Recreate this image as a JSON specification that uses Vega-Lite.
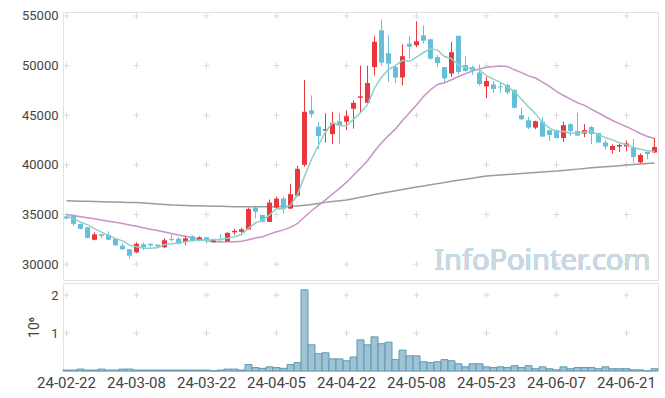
{
 "$schema": "https://vega.github.io/schema/vega-lite/v6.json",
 "background": "white",
 "padding": {"left": 20, "top": 9, "right": 5, "bottom": 5},
 "spacing": 1,
 "config": {
  "view": {"stroke": "#e2e2e2"},
  "axis": {"labelFont": "Roboto", "labelColor": "#444", "domain": false, "ticks": false, "grid": false, "titleFont": "Roboto", "titleColor": "#444", "titleFontWeight": "normal"}
 },
 "datasets": {
  "p": [
   {"d":"24-02-22","o":34800,"h":34900,"l":34500,"c":34600,"v":25000,"m5":34850,"m20":35000,"m120":36380},
   {"d":"24-02-23","o":34900,"h":35000,"l":33850,"c":34050,"v":25000,"m5":34550,"m20":34900,"m120":36360},
   {"d":"24-02-26","o":34050,"h":34100,"l":33500,"c":33550,"v":50000,"m5":34250,"m20":34780,"m120":36345},
   {"d":"24-02-27","o":33700,"h":33750,"l":32600,"c":32650,"v":25000,"m5":33950,"m20":34670,"m120":36325},
   {"d":"24-02-28","o":32450,"h":33200,"l":32400,"c":33000,"v":25000,"m5":33570,"m20":34560,"m120":36310},
   {"d":"24-02-29","o":33000,"h":33050,"l":32650,"c":32850,"v":50000,"m5":33220,"m20":34440,"m120":36290},
   {"d":"24-03-04","o":32950,"h":33300,"l":32400,"c":32450,"v":25000,"m5":32900,"m20":34330,"m120":36270},
   {"d":"24-03-05","o":32550,"h":32600,"l":31850,"c":31900,"v":25000,"m5":32570,"m20":34210,"m120":36255},
   {"d":"24-03-06","o":31850,"h":32100,"l":31450,"c":31500,"v":50000,"m5":32340,"m20":34100,"m120":36235},
   {"d":"24-03-07","o":31500,"h":31500,"l":30550,"c":30850,"v":50000,"m5":31910,"m20":33950,"m120":36220},
   {"d":"24-03-08","o":31200,"h":32200,"l":31100,"c":32050,"v":25000,"m5":31750,"m20":33810,"m120":36200},
   {"d":"24-03-11","o":32000,"h":32170,"l":31400,"c":31700,"v":25000,"m5":31600,"m20":33660,"m120":36150},
   {"d":"24-03-12","o":32050,"h":32100,"l":31700,"c":31900,"v":25000,"m5":31600,"m20":33520,"m120":36100},
   {"d":"24-03-13","o":31950,"h":32000,"l":31600,"c":31800,"v":25000,"m5":31660,"m20":33380,"m120":36050},
   {"d":"24-03-14","o":31700,"h":32600,"l":31600,"c":32400,"v":25000,"m5":31970,"m20":33230,"m120":36000},
   {"d":"24-03-15","o":32550,"h":33000,"l":32300,"c":32450,"v":25000,"m5":32050,"m20":33090,"m120":35950},
   {"d":"24-03-18","o":32550,"h":32700,"l":31950,"c":32050,"v":25000,"m5":32120,"m20":32940,"m120":35930},
   {"d":"24-03-19","o":32250,"h":32800,"l":31900,"c":32600,"v":25000,"m5":32260,"m20":32800,"m120":35910},
   {"d":"24-03-20","o":32800,"h":32900,"l":32250,"c":32350,"v":25000,"m5":32370,"m20":32650,"m120":35890},
   {"d":"24-03-21","o":32400,"h":32800,"l":32300,"c":32700,"v":25000,"m5":32430,"m20":32470,"m120":35870},
   {"d":"24-03-22","o":32700,"h":32750,"l":32050,"c":32350,"v":25000,"m5":32410,"m20":32358,"m120":35850},
   {"d":"24-03-25","o":32200,"h":32500,"l":32150,"c":32400,"v":5000,"m5":32480,"m20":32275,"m120":35835},
   {"d":"24-03-26","o":32550,"h":33000,"l":32250,"c":32500,"v":25000,"m5":32460,"m20":32223,"m120":35820},
   {"d":"24-03-27","o":32300,"h":33200,"l":32250,"c":33150,"v":50000,"m5":32620,"m20":32248,"m120":35805},
   {"d":"24-03-28","o":33200,"h":33550,"l":32950,"c":33350,"v":50000,"m5":32750,"m20":32265,"m120":35790},
   {"d":"24-03-29","o":33250,"h":33670,"l":33100,"c":33500,"v":25000,"m5":32980,"m20":32298,"m120":35780},
   {"d":"24-04-01","o":33500,"h":35700,"l":33500,"c":35550,"v":170000,"m5":33610,"m20":32453,"m120":35780},
   {"d":"24-04-02","o":35700,"h":35900,"l":34600,"c":35270,"v":90000,"m5":34164,"m20":32621,"m120":35780},
   {"d":"24-04-03","o":34950,"h":35000,"l":34200,"c":34250,"v":70000,"m5":34384,"m20":32759,"m120":35780},
   {"d":"24-04-04","o":34250,"h":36500,"l":34250,"c":36200,"v":110000,"m5":34954,"m20":33026,"m120":35780},
   {"d":"24-04-05","o":35700,"h":36800,"l":35600,"c":36600,"v":90000,"m5":35574,"m20":33254,"m120":35780},
   {"d":"24-04-08","o":36600,"h":36800,"l":35100,"c":35600,"v":70000,"m5":35584,"m20":33449,"m120":35800},
   {"d":"24-04-09","o":35600,"h":38050,"l":35550,"c":37050,"v":170000,"m5":35940,"m20":33706,"m120":35820},
   {"d":"24-04-11","o":36900,"h":39900,"l":36800,"c":39600,"v":220000,"m5":37010,"m20":34096,"m120":35850},
   {"d":"24-04-12","o":40000,"h":48550,"l":39800,"c":45350,"v":2140000,"m5":38840,"m20":34744,"m120":35920},
   {"d":"24-04-15","o":45500,"h":47000,"l":44800,"c":45100,"v":690000,"m5":40540,"m20":35376,"m120":36000},
   {"d":"24-04-16","o":43850,"h":44350,"l":41600,"c":42900,"v":456000,"m5":42000,"m20":35919,"m120":36110},
   {"d":"24-04-17","o":43450,"h":45200,"l":42250,"c":43600,"v":480000,"m5":43310,"m20":36469,"m120":36220},
   {"d":"24-04-18","o":43100,"h":45350,"l":42100,"c":44250,"v":320000,"m5":44240,"m20":37064,"m120":36300},
   {"d":"24-04-19","o":44400,"h":45200,"l":42100,"c":44000,"v":320000,"m5":43970,"m20":37629,"m120":36380},
   {"d":"24-04-22","o":44350,"h":45500,"l":43500,"c":44900,"v":270000,"m5":43930,"m20":38256,"m120":36450},
   {"d":"24-04-23","o":45650,"h":46500,"l":43650,"c":46250,"v":370000,"m5":44600,"m20":38949,"m120":36590},
   {"d":"24-04-24","o":46750,"h":50000,"l":45300,"c":46900,"v":820000,"m5":45260,"m20":39669,"m120":36730},
   {"d":"24-04-25","o":46250,"h":50000,"l":46200,"c":48250,"v":690000,"m5":46060,"m20":40424,"m120":36870},
   {"d":"24-04-26","o":49850,"h":53000,"l":49000,"c":52400,"v":900000,"m5":47740,"m20":41376,"m120":37010},
   {"d":"24-04-29","o":53550,"h":54650,"l":50000,"c":50300,"v":720000,"m5":48820,"m20":42216,"m120":37150},
   {"d":"24-04-30","o":51250,"h":53050,"l":48350,"c":50200,"v":760000,"m5":49610,"m20":42949,"m120":37270},
   {"d":"24-05-02","o":49850,"h":50000,"l":48250,"c":48800,"v":300000,"m5":49990,"m20":43625,"m120":37390},
   {"d":"24-05-03","o":48800,"h":52150,"l":48000,"c":50950,"v":550000,"m5":50530,"m20":44460,"m120":37510},
   {"d":"24-05-07","o":52200,"h":53000,"l":50700,"c":51900,"v":400000,"m5":50430,"m20":45245,"m120":37640},
   {"d":"24-05-08","o":52050,"h":54450,"l":51850,"c":52450,"v":400000,"m5":50860,"m20":46038,"m120":37760},
   {"d":"24-05-09","o":53050,"h":54050,"l":52200,"c":52500,"v":245000,"m5":51320,"m20":46883,"m120":37880},
   {"d":"24-05-10","o":52650,"h":52700,"l":50600,"c":50700,"v":220000,"m5":51700,"m20":47565,"m120":37990},
   {"d":"24-05-13","o":50850,"h":51050,"l":49850,"c":50250,"v":245000,"m5":51560,"m20":48098,"m120":38110},
   {"d":"24-05-14","o":49850,"h":49850,"l":48350,"c":48700,"v":300000,"m5":50920,"m20":48265,"m120":38230},
   {"d":"24-05-16","o":49200,"h":52400,"l":48850,"c":51350,"v":270000,"m5":50700,"m20":48578,"m120":38350},
   {"d":"24-05-17","o":53000,"h":53000,"l":49150,"c":49350,"v":190000,"m5":50070,"m20":48900,"m120":38450},
   {"d":"24-05-20","o":50050,"h":50950,"l":49400,"c":49450,"v":110000,"m5":49820,"m20":49193,"m120":38560},
   {"d":"24-05-21","o":49850,"h":50000,"l":49050,"c":49500,"v":190000,"m5":49670,"m20":49455,"m120":38660},
   {"d":"24-05-22","o":49300,"h":50100,"l":48000,"c":48150,"v":190000,"m5":49560,"m20":49663,"m120":38770},
   {"d":"24-05-23","o":47900,"h":48900,"l":46700,"c":48450,"v":110000,"m5":48980,"m20":49840,"m120":38870},
   {"d":"24-05-24","o":48100,"h":48450,"l":47250,"c":47650,"v":90000,"m5":48640,"m20":49910,"m120":38930},
   {"d":"24-05-27","o":47900,"h":48250,"l":47250,"c":47800,"v":110000,"m5":48310,"m20":49955,"m120":38980},
   {"d":"24-05-28","o":48050,"h":48150,"l":47100,"c":47300,"v":90000,"m5":47870,"m20":49908,"m120":39030},
   {"d":"24-05-29","o":47550,"h":47600,"l":45700,"c":45750,"v":140000,"m5":47390,"m20":49575,"m120":39090},
   {"d":"24-05-30","o":45000,"h":45750,"l":44500,"c":44600,"v":90000,"m5":46620,"m20":49290,"m120":39140},
   {"d":"24-05-31","o":44500,"h":44850,"l":43600,"c":43750,"v":140000,"m5":45840,"m20":48968,"m120":39190},
   {"d":"24-06-03","o":43750,"h":44450,"l":43600,"c":44400,"v":60000,"m5":45160,"m20":48748,"m120":39230},
   {"d":"24-06-04","o":44350,"h":44800,"l":42800,"c":42850,"v":110000,"m5":44270,"m20":48343,"m120":39280},
   {"d":"24-06-05","o":43500,"h":43550,"l":42400,"c":43000,"v":60000,"m5":43720,"m20":47898,"m120":39320},
   {"d":"24-06-07","o":43500,"h":43550,"l":42650,"c":42700,"v":30000,"m5":43340,"m20":47410,"m120":39370},
   {"d":"24-06-10","o":42700,"h":44350,"l":42300,"c":44000,"v":110000,"m5":43390,"m20":46985,"m120":39440},
   {"d":"24-06-11","o":44100,"h":44200,"l":42900,"c":43400,"v":60000,"m5":43190,"m20":46620,"m120":39500},
   {"d":"24-06-12","o":43400,"h":45250,"l":42900,"c":42950,"v":90000,"m5":43210,"m20":46255,"m120":39570},
   {"d":"24-06-13","o":43150,"h":44110,"l":42790,"c":43500,"v":90000,"m5":43310,"m20":45995,"m120":39630},
   {"d":"24-06-14","o":43800,"h":43900,"l":42100,"c":43100,"v":90000,"m5":43390,"m20":45583,"m120":39700},
   {"d":"24-06-17","o":43200,"h":43250,"l":42200,"c":42250,"v":60000,"m5":43040,"m20":45228,"m120":39760},
   {"d":"24-06-18","o":42250,"h":42500,"l":41550,"c":41850,"v":110000,"m5":42730,"m20":44848,"m120":39810},
   {"d":"24-06-19","o":41500,"h":42050,"l":41150,"c":41900,"v":60000,"m5":42520,"m20":44468,"m120":39870},
   {"d":"24-06-20","o":41850,"h":42100,"l":41300,"c":42000,"v":60000,"m5":42220,"m20":44160,"m120":39920},
   {"d":"24-06-21","o":41850,"h":42450,"l":41350,"c":42150,"v":60000,"m5":42030,"m20":43845,"m120":39980},
   {"d":"24-06-24","o":41700,"h":42600,"l":40200,"c":40800,"v":30000,"m5":41740,"m20":43503,"m120":40030},
   {"d":"24-06-25","o":40250,"h":41150,"l":40150,"c":41000,"v":30000,"m5":41570,"m20":43163,"m120":40080},
   {"d":"24-06-26","o":41300,"h":41350,"l":40550,"c":41100,"v":0,"m5":41410,"m20":42853,"m120":40130},
   {"d":"24-06-27","o":41250,"h":42700,"l":41200,"c":41800,"v":60000,"m5":41370,"m20":42655,"m120":40180}
  ],
  "gp": [
   {"d":"24-02-22","g":30000},{"d":"24-02-22","g":35000},{"d":"24-02-22","g":40000},{"d":"24-02-22","g":45000},{"d":"24-02-22","g":50000},{"d":"24-02-22","g":55000},
   {"d":"24-03-08","g":30000},{"d":"24-03-08","g":35000},{"d":"24-03-08","g":40000},{"d":"24-03-08","g":45000},{"d":"24-03-08","g":50000},{"d":"24-03-08","g":55000},
   {"d":"24-03-22","g":30000},{"d":"24-03-22","g":35000},{"d":"24-03-22","g":40000},{"d":"24-03-22","g":45000},{"d":"24-03-22","g":50000},{"d":"24-03-22","g":55000},
   {"d":"24-04-05","g":30000},{"d":"24-04-05","g":35000},{"d":"24-04-05","g":40000},{"d":"24-04-05","g":45000},{"d":"24-04-05","g":50000},{"d":"24-04-05","g":55000},
   {"d":"24-04-22","g":30000},{"d":"24-04-22","g":35000},{"d":"24-04-22","g":40000},{"d":"24-04-22","g":45000},{"d":"24-04-22","g":50000},{"d":"24-04-22","g":55000},
   {"d":"24-05-08","g":30000},{"d":"24-05-08","g":35000},{"d":"24-05-08","g":40000},{"d":"24-05-08","g":45000},{"d":"24-05-08","g":50000},{"d":"24-05-08","g":55000},
   {"d":"24-05-23","g":30000},{"d":"24-05-23","g":35000},{"d":"24-05-23","g":40000},{"d":"24-05-23","g":45000},{"d":"24-05-23","g":50000},{"d":"24-05-23","g":55000},
   {"d":"24-06-07","g":30000},{"d":"24-06-07","g":35000},{"d":"24-06-07","g":40000},{"d":"24-06-07","g":45000},{"d":"24-06-07","g":50000},{"d":"24-06-07","g":55000},
   {"d":"24-06-21","g":30000},{"d":"24-06-21","g":35000},{"d":"24-06-21","g":40000},{"d":"24-06-21","g":45000},{"d":"24-06-21","g":50000},{"d":"24-06-21","g":55000}
  ],
  "gv": [
   {"d":"24-02-22","g":1000000},{"d":"24-02-22","g":2000000},
   {"d":"24-03-08","g":1000000},{"d":"24-03-08","g":2000000},
   {"d":"24-03-22","g":1000000},{"d":"24-03-22","g":2000000},
   {"d":"24-04-05","g":1000000},{"d":"24-04-05","g":2000000},
   {"d":"24-04-22","g":1000000},{"d":"24-04-22","g":2000000},
   {"d":"24-05-08","g":1000000},{"d":"24-05-08","g":2000000},
   {"d":"24-05-23","g":1000000},{"d":"24-05-23","g":2000000},
   {"d":"24-06-07","g":1000000},{"d":"24-06-07","g":2000000},
   {"d":"24-06-21","g":1000000},{"d":"24-06-21","g":2000000}
  ]
 },
 "vconcat": [
  {
   "width": 595,
   "height": 268,
   "layer": [
    {
     "data": {"name": "gp"},
     "mark": {"type": "point", "shape": "M-1,0L1,0M0,-1L0,1", "filled": false, "stroke": "#dadada", "strokeWidth": 1, "size": 36, "opacity": 1},
     "encoding": {
      "x": {"field": "d", "type": "ordinal", "scale": {"paddingInner": 0, "paddingOuter": 0}, "axis": null},
      "y": {"field": "g", "type": "quantitative", "scale": {"domain": [28400, 55400], "nice": false, "zero": false},
            "axis": {"values": [30000, 35000, 40000, 45000, 50000, 55000], "format": "d", "labelFontSize": 13, "labelPadding": 5, "title": null}}
     }
    },
    {
     "data": {"name": "p"},
     "mark": {"type": "text", "align": "right", "baseline": "alphabetic", "font": "Noto Sans", "fontSize": 29, "color": "#c9d9e4", "dx": 3},
     "encoding": {"x": {"datum": "24-06-26", "type": "ordinal"}, "y": {"datum": 29450, "type": "quantitative"}, "text": {"value": "InfoPointer.com"}}
    },
    {
     "data": {"name": "p"},
     "mark": {"type": "line", "color": "#9b9b9b", "strokeWidth": 1.5},
     "encoding": {"x": {"field": "d", "type": "ordinal"}, "y": {"field": "m120", "type": "quantitative"}}
    },
    {
     "data": {"name": "p"},
     "mark": {"type": "line", "color": "#c992c5", "strokeWidth": 1.5},
     "encoding": {"x": {"field": "d", "type": "ordinal"}, "y": {"field": "m20", "type": "quantitative"}}
    },
    {
     "data": {"name": "p"},
     "mark": {"type": "rule", "strokeWidth": 1},
     "encoding": {
      "x": {"field": "d", "type": "ordinal"},
      "y": {"field": "l", "type": "quantitative"},
      "y2": {"field": "h"},
      "color": {"condition": {"test": "datum.c >= datum.o", "value": "#e8383d"}, "value": "#66bfd9"}
     }
    },
    {
     "data": {"name": "p"},
     "mark": {"type": "bar", "width": 5},
     "encoding": {
      "x": {"field": "d", "type": "ordinal"},
      "y": {"field": "o", "type": "quantitative"},
      "y2": {"field": "c"},
      "color": {"condition": {"test": "datum.c >= datum.o", "value": "#e8383d"}, "value": "#66bfd9"}
     }
    },
    {
     "data": {"name": "p"},
     "mark": {"type": "line", "color": "#8fd0c6", "strokeWidth": 1.5},
     "encoding": {"x": {"field": "d", "type": "ordinal"}, "y": {"field": "m5", "type": "quantitative"}}
    }
   ]
  },
  {
   "width": 595,
   "height": 88,
   "layer": [
    {
     "data": {"name": "gv"},
     "mark": {"type": "point", "shape": "M-1,0L1,0M0,-1L0,1", "filled": false, "stroke": "#dadada", "strokeWidth": 1, "size": 36, "opacity": 1},
     "encoding": {
      "x": {"field": "d", "type": "ordinal", "scale": {"paddingInner": 0, "paddingOuter": 0},
            "axis": {"values": ["24-02-22", "24-03-08", "24-03-22", "24-04-05", "24-04-22", "24-05-08", "24-05-23", "24-06-07", "24-06-21"], "labelAngle": 0, "labelFontSize": 15, "labelPadding": 4, "title": null}},
      "y": {"field": "g", "type": "quantitative", "scale": {"domain": [0, 2320000], "nice": false},
            "axis": {"values": [1000000, 2000000], "labelExpr": "datum.value / 1000000", "labelFontSize": 13, "labelPadding": 5, "title": "10⁶", "titleFontSize": 14, "titlePadding": 9}}
     }
    },
    {
     "data": {"name": "p"},
     "mark": {"type": "bar", "fill": "#9dc3d5", "stroke": "#6298b2", "strokeWidth": 1},
     "encoding": {
      "x": {"field": "d", "type": "ordinal"},
      "y": {"field": "v", "type": "quantitative"}
     }
    }
   ]
  }
 ]
}
